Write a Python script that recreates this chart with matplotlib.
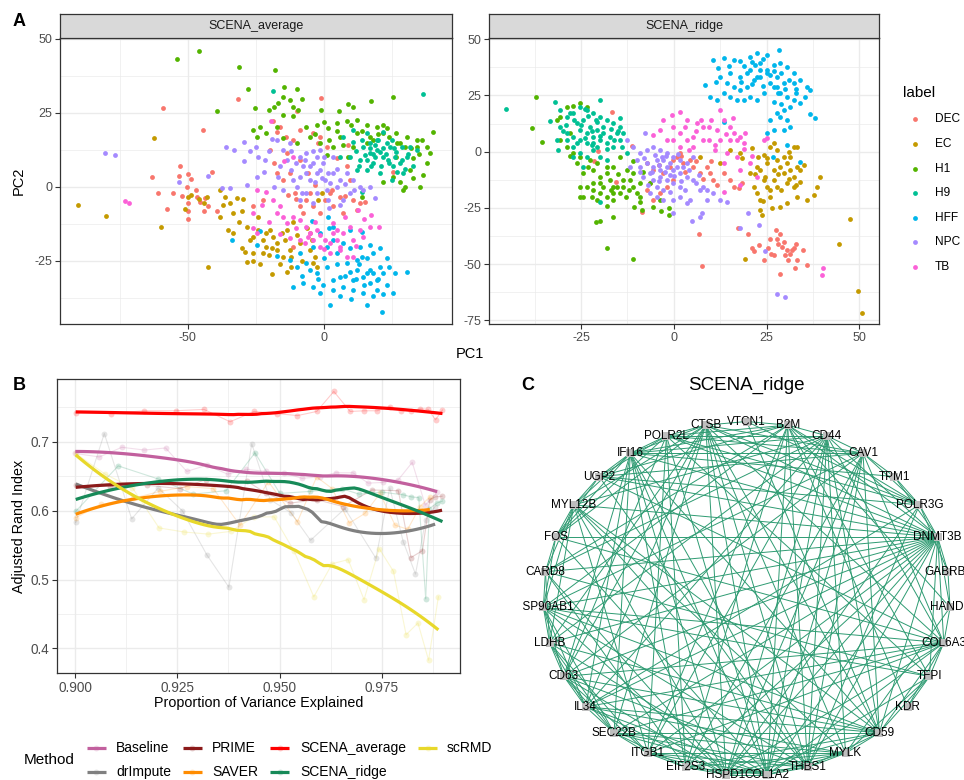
import numpy as np
import matplotlib
matplotlib.use('Agg')
import matplotlib.pyplot as plt
from matplotlib.collections import LineCollection

plt.rcParams['font.family'] = ['Liberation Sans', 'DejaVu Sans']
plt.rcParams['axes.unicode_minus'] = False

# ---------------- Panel A data (PC1, PC2) ----------------
labels_A = ['DEC', 'EC', 'H1', 'H9', 'HFF', 'NPC', 'TB']
colors_A = ['#F8766D', '#C49A00', '#53B400', '#00C094', '#00B6EB', '#A58AFF', '#FB61D7']

avg_DEC = [(-58.9,26.8),(-44.5,19.1),(-31.6,29.6),(-9.6,25.7),(-1.0,30.1),(-63.2,3.2),(-61.0,-2.1),(-57.7,-7.5),(-55.3,-1.9),(-52.8,6.9),(-53.3,3.7),(-50.0,4.3),(-48.9,2.7),(-50.4,0.1),(-49.8,-5.5),(-50.0,-8.1),(-50.0,-10.9),(-46.7,-3.3),(-45.5,-5.0),(-43.6,-3.8),(-42.4,-6.3),(-41.2,5.2),(-39.3,-8.0),(-16.1,20.4),(-17.3,18.7),(-18.5,22.1),(-19.7,12.5),(-18.3,8.2),(-17.3,4.6),(-14.8,2.4),(-13.0,-2.7),(-10.5,-1.9),(-8.7,-6.6),(-7.5,-8.9),(-6.3,-4.4),(-3.8,-6.6),(-1.3,-8.9),(0.5,-4.4),(2.3,-2.1),(3.6,-6.6),(6.0,-3.3),(7.2,-8.9),(10.9,-4.4),(13.4,-5.5),(15.2,-5.0),(9.7,2.4),(8.5,6.9),(4.8,9.7),(1.1,13.6),(-1.3,17.0),(-3.8,18.1),(-8.7,19.3),(-11.2,15.9),(-13.6,11.4),(-8.7,9.1),(-5.6,4.6),(-3.2,0.7),(-12.4,4.6),(-22.2,-4.4),(-25.9,-6.6),(25.6,5.2),(12.1,-7.8),(9.1,14.2),(-5.0,-15.7),(-11.2,-20.2),
           (-47,-1),(-52,-3),(-44,-8),(-5,-2),(3,-1),(-10,-4),(8,-3),(-2,15),(-14,17)]
avg_EC = [(-90.4,-6.0),(-80.1,-9.8),(-62.3,16.6),(-59.8,-13.4),(-42.4,-27.0),(-49.8,-3.3),(-48.9,-2.7),(-51.0,-7.5),(-45.7,-4.2),(-44.0,-5.3),(-43.0,-3.3),(-38.1,-1.0),(-36.3,-3.3),(-34.4,-5.5),(-33.2,-8.9),(-32.0,-3.8),(-29.5,-4.2),(-30.1,-8.3),(-28.3,-13.4),(-25.9,-16.8),(-24.0,-14.5),(-22.2,-17.9),(-21.0,-15.7),(-19.7,-14.5),(-18.5,-16.8),(-17.3,-19.0),(-15.4,-15.7),(-13.6,-14.5),(-14.2,-17.9),(-11.2,-11.7),(-12.4,-21.3),(-14.8,-23.5),(-17.3,-21.3),(-19.1,-20.7),(-21.0,-20.2),(-22.2,-22.4),(-25.9,-25.0),(-23.4,-26.1),(-19.1,-29.4),(-13.6,-28.9),(-11.8,-23.5),(-9.9,-16.2),(-8.7,-19.0),(-5.0,-21.3),(-3.2,-23.5),(-2.6,-26.9),(-4.4,-17.9),(-0.7,-2.1),(-2.0,-4.4),(-3.8,-25.8),(-30.1,-20.7),(-33.2,-15.7),(-35.0,-14.5),(-38.1,-10.0),(-25.9,-22.4),(-28.1,-25.2),
          (-27,-18),(-20,-23),(-16,-26),(-24,-10),(-37,-6),(-31,-12),(-12,-27),(-8,-25),(-6,-14),(-29,-22)]
avg_H1 = [(-53.9,43.2),(-45.7,45.9),(-31.0,40.5),(-27.7,33.0),(-18.0,39.5),(-39.3,25.6),(-25.1,26.8),(-14.6,33.7),(-9.8,33.0),(-16.7,28.3),(-15.1,30.5),(-12.4,29.4),(-11.2,27.1),(-8.1,29.6),(-9.3,26.0),(-11.2,23.8),(-14.8,24.3),(-18.1,27.1),(-20.0,26.0),(17.3,28.9),(25.7,30.5),(9.1,28.0),(10.9,27.1),(5.5,25.7),(-1.0,25.9),(-6.3,20.4),(-2.6,20.9),(1.7,19.8),(4.8,21.5),(8.5,22.1),(12.1,22.6),(15.8,20.9),(19.5,20.4),(23.2,19.8),(26.8,18.1),(30.5,17.0),(34.2,15.9),(37.9,13.6),(40.3,18.7),(39.1,11.4),(36.6,4.1),(35.4,-0.1),(29.3,-1.2),(31.7,5.7),(25.6,3.5),(-5.0,17.0),(-1.3,14.8),(3.6,13.6),(-23.4,20.4),(-24.6,17.0),(-25.9,19.3),(-21.0,18.1),(-17.3,20.4),(-14.8,16.4),(-9.9,14.8),(14.0,-3.3),(21.9,1.8),(29.9,13.6),(26.8,10.2),(10.9,13.6),(6.0,17.0),(1.1,10.8),(9.1,10.2),(33.0,9.7),(28.1,1.8),(12.1,18.1),(18.3,15.9),(21.9,18.1),(28.1,14.8),(15.8,14.8),(34.2,13.6),
          (2,16),(5,19),(7,14),(10,21),(14,19),(17,17),(20,18),(24,17),(27,15),(32,13),(35,11),(38,8),(33,3),(30,0),(36,16),(22,21),(-3,18),(0,22)]
avg_H9 = [(36.4,31.5),(-18.6,32.5),(7.2,17.0),(10.9,15.3),(14.6,13.6),(17.0,11.4),(19.5,12.5),(21.9,10.2),(24.4,13.6),(18.3,8.0),(15.8,5.7),(13.4,9.1),(20.7,4.6),(28.1,8.0),(30.5,10.2),(33.0,6.9),(25.6,6.9),(23.2,14.8),(9.7,10.2),(12.1,5.7),(19.5,15.9),(26.8,11.9),(29.3,4.6),(31.7,13.6),(15.8,18.1),(6.0,10.2),(21.9,18.7),(34.2,12.5),(10.9,19.3),(25.0,2.4),(14.0,-1.6),(17.0,13.0),(18.9,10.2),(20.7,11.9),(15.2,10.8),(23.8,9.1),(17.6,6.9),(26.2,10.2),(28.7,13.6),
          (12,12),(14,16),(16,9),(19,14),(21,7),(23,11),(25,16),(27,5),(29,9),(31,11),(22,13),(18,11),(24,8),(20,16),(26,13),(30,6),(13,7),(17,15)]
avg_HFF = [(-4.3,-11.4),(1.7,-10.2),(9.7,-14.5),(14.0,-15.1),(17.0,-19.6),(20.7,-20.7),(23.2,-24.1),(14.0,-23.5),(9.7,-20.7),(3.6,-17.9),(-1.3,-15.7),(-3.8,-20.2),(4.8,-22.4),(8.5,-25.8),(12.1,-28.0),(15.8,-29.2),(19.5,-31.4),(10.9,-31.4),(7.2,-33.7),(3.6,-34.8),(-1.3,-35.9),(-3.8,-33.7),(-7.5,-32.5),(-11.2,-33.7),(-9.9,-26.9),(-6.3,-25.8),(-2.6,-29.2),(1.1,-26.9),(6.0,-30.3),(14.6,-35.9),(18.3,-37.0),(15.8,-39.9),(2.3,-39.9),(21.6,-42.3),(25.6,-35.9),(23.2,-33.1),(30.5,-28.6),(26.2,-29.2),(20.7,-26.9),(18.3,-22.4),(13.4,-20.2),(-33.8,-17.9),(-23.3,-14.8),(-24.6,-19.6),(-17.3,-23.2),(-12.4,-24.7),(-8.7,-22.4),(3.6,-13.4),(1.1,-20.2),(10.9,-34.8),(12.1,-24.7),(21.9,-29.2),(17.0,-28.0),(14.6,-30.3),(9.7,-28.6),(3.6,-31.4),(-0.1,-33.1),(17.0,-32.5),(19.5,-34.8),
           (0,-24),(5,-26),(8,-30),(12,-31),(15,-33),(18,-29),(20,-31),(22,-36),(6,-37),(10,-38),(-5,-28),(-8,-30),(13,-26),(16,-24),(24,-27),(-2,-31),(7,-19),(2,-14)]
avg_NPC = [(-80.3,11.5),(-76.8,10.9),(-53.2,1.8),(-42.4,3.7),(-37.3,-0.5),(-34.4,-0.2),(-35.7,13.6),(-32.8,12.5),(-29.2,15.1),(-29.3,8.6),(-28.1,0.7),(-24.9,13.6),(-24.6,3.5),(-24.0,10.2),(-21.6,9.1),(-18.8,16.1),(-17.3,15.9),(-18.3,0.1),(-14.8,12.5),(-13.6,9.1),(-11.8,5.7),(-11.2,2.4),(-9.9,0.1),(-8.7,10.2),(-7.5,6.9),(-6.3,4.6),(-5.0,2.4),(-3.8,8.0),(-2.6,10.2),(-1.3,5.7),(0.5,2.4),(2.3,1.2),(3.6,4.6),(4.8,0.1),(6.0,2.4),(8.5,4.6),(10.9,2.4),(13.4,0.1),(14.6,-1.0),(9.7,-2.1),(7.2,-4.4),(1.1,-1.0),(-2.6,-2.1),(-6.3,-2.1),(-8.7,-4.4),(-3.8,-5.5),(1.7,-4.4),(18.9,-3.8),(17.0,0.1),(-6.3,11.4),(-1.3,12.5),(3.6,10.2),(-12.4,14.8),(-16.7,3.5),(-8.7,3.5),(-0.1,8.0),(-5.0,6.9),(-2.6,4.6),(-0.7,2.9),(1.7,4.6),(-3.2,1.8),(-6.9,9.1),
           (-20,12),(-16,7),(-10,8),(-4,12),(0,10),(5,6),(8,1),(11,-1),(-15,-1),(-22,5),(-27,12),(-8,-2),(2,-7),(6,-6),(-12,12)]
avg_TB = [(-73.0,-4.8),(-71.6,-5.3),(-19.5,22.4),(-14.5,8.6),(-11.2,10.2),(-21.0,-1.6),(-24.6,-1.0),(-25.9,-8.9),(-22.8,-6.1),(-18.5,-4.4),(-16.1,-6.6),(-25.9,-14.0),(-24.6,-15.7),(-14.8,-10.0),(-13.6,-12.3),(-11.2,-10.0),(-8.7,-11.1),(-6.3,-13.4),(-5.0,-15.7),(-3.8,-17.9),(-1.3,-16.2),(0.5,-17.9),(2.3,-19.0),(3.6,-15.7),(4.8,-14.5),(7.2,-15.7),(9.7,-13.4),(10.9,-17.9),(8.5,-23.5),(6.0,-21.3),(2.3,-22.4),(13.4,-14.5),(14.6,-16.8),(17.0,-13.4),(20.3,-13.4),(17.6,-9.5),(12.7,-7.8),(3.6,-12.3),(-2.6,-14.5),(-5.6,-16.8),(-8.7,-17.9),(-12.4,-17.3),(10.9,-23.5),(6.0,-20.2),(-1.3,-20.2),(-17.3,-8.9),
          (-20,-12),(-16,-16),(-10,-14),(-3,-12),(5,-18),(12,-20),(15,-11),(8,-10),(-7,-19),(0,-21)]

rid_DEC = [(-16.6,17.7),(-20.5,0.3),(-21.5,-4.3),(-15.6,-13.6),(-11.2,2.7),(-8.6,-26.7),(-7.3,-5.2),(-5.5,-8.2),(-2.8,-9.6),(-1.0,-6.7),(-0.1,-3.7),(0.8,-2.2),(1.7,-0.7),(2.6,-5.2),(4.4,-3.7),(5.3,-6.7),(7.1,-9.6),(8.9,-6.7),(9.8,-9.6),(10.7,-12.6),(11.6,-14.8),(-0.1,-12.6),(-1.9,-15.6),(-3.7,-18.5),(-5.5,-21.5),(-7.3,-17.1),(-6.4,-14.1),(6.7,-36.6),(7.7,-50.9),(17.4,-33.8),(19.9,-36.4),(21.0,-42.7),(21.7,-44.1),(23.1,-41.5),(24.2,-48.2),(25.5,-43.0),(26.2,-45.4),(27.8,-38.6),(28.2,-40.8),(28.7,-36.4),(29.6,-40.1),(30.5,-43.8),(31.4,-45.3),(32.3,-43.0),(33.2,-48.2),(34.8,-43.5),(35.9,-50.4),(32.7,-51.5),(30.8,-48.2),(28.7,-54.2),(16.1,-15.6),(17.5,-16.2),(13.4,-9.6),(15.2,-12.6),(18.3,-14.1),(27.6,-34.9),(29.1,-42.3),(31.8,-43.8),
           (3,-9),(6,-4),(10,-4),(8,-12),(-4,-6),(2,-2),(27,-46),(33,-41),(26,-39),(30,-46)]
rid_EC = [(7.1,-2.2),(12.5,-5.2),(15.2,0.7),(17.9,-0.7),(21.0,1.5),(18.3,-3.0),(20.6,-9.6),(22.4,-6.7),(23.3,-8.2),(24.2,-1.5),(25.1,-5.2),(26.0,2.2),(26.9,3.7),(27.8,-3.7),(28.7,-6.7),(29.6,-9.6),(30.5,-5.2),(31.4,-8.2),(32.3,-11.1),(33.2,-6.7),(34.1,-8.2),(30.5,-14.1),(32.3,-15.6),(26.9,-12.6),(25.1,-15.6),(24.2,-12.6),(23.3,-21.5),(22.4,-18.5),(26.0,-20.0),(27.8,-15.6),(24.6,-11.1),(26.9,-8.2),(34.1,-13.4),(33.2,-20.0),(35.9,-21.5),(37.7,-19.3),(38.6,-15.6),(39.3,-11.1),(32.3,2.2),(33.2,2.2),(30.5,-23.0),(28.7,-24.5),(26.4,-25.2),(23.3,-26.0),(23.7,-28.2),(19.1,-47.9),(44.6,-41.1),(47.6,-30.1),(49.6,-61.9),(50.7,-71.5),(31.4,-2.2),(29.6,-2.2),(22.8,-2.2),(27.8,0.7),(21.5,-15.6),
          (25,-3),(28,-10),(31,-12),(29,-17),(22,-10),(26,-17),(33,-15),(35,-6),(24,-22),(31,0)]
rid_H1 = [(-38.3,10.7),(-37.1,24.2),(-35.4,4.5),(-17.9,-42.7),(-10.9,-47.8),(-21.0,-31.3),(-19.9,-30.9),(-16.4,-28.9),(-3.4,-26.3),(-1.3,-25.2),(-1.2,-28.2),(-8.6,-25.7),(-10.6,-24.5),(-28.9,20.0),(-27.1,20.3),(-25.3,21.5),(-23.5,20.0),(-30.7,15.6),(-28.9,2.2),(-27.1,-0.7),(-25.3,-2.2),(-24.4,-9.6),(-21.7,-8.2),(-19.9,-11.1),(-18.1,-9.6),(-16.3,-6.7),(-23.5,-15.6),(-21.7,-17.1),(-19.9,-18.5),(-18.1,-20.0),(-16.3,-21.5),(-14.5,-18.5),(-13.6,-12.6),(-12.7,-8.2),(-11.8,-12.6),(-10.9,-15.6),(-9.1,-20.0),(-25.3,-20.0),(-24.4,-20.0),(-21.7,-14.1),(-19.0,-15.6),(-17.2,-12.6),(-15.4,-15.6),(-13.6,-15.6),(-20.8,-21.5),(-16.3,-15.6),(-10.9,-9.6),(-8.2,-8.9),(-9.1,-22.3),(-25.3,-15.6),(-28.0,8.2),(-30.7,5.2),(-31.6,14.1),(-18.1,-6.7),(-20.8,-5.2),(-14.5,-2.2),(-22.6,-3.7),(-16.3,-18.5),(-10.0,-18.5),(-6.4,-14.1),(-3.7,-21.5),(-5.5,-24.5),
          (-26,-5),(-23,-7),(-20,-14),(-17,-17),(-15,-10),(-13,-20),(-11,-4),(-9,-14),(-22,-20),(-18,-24),(-28,-2),(-12,-17)]
rid_H9 = [(-45.2,18.8),(-33.4,13.8),(-31.1,0.7),(-31.6,5.2),(-32.0,22.3),(-30.7,18.5),(-28.9,15.6),(-27.1,17.1),(-25.3,20.0),(-23.5,18.5),(-21.7,17.1),(-19.9,15.6),(-18.1,14.1),(-16.3,12.6),(-14.5,11.1),(-30.7,11.1),(-28.9,8.2),(-27.1,6.7),(-25.3,9.6),(-23.5,8.2),(-21.7,6.7),(-19.9,5.2),(-18.1,3.7),(-16.3,2.2),(-14.5,5.2),(-27.1,2.2),(-25.3,-0.7),(-23.5,-2.2),(-21.7,0.7),(-19.9,-2.2),(-18.1,-3.7),(-28.9,5.2),(-26.2,12.6),(-24.4,14.1),(-22.6,11.1),(-20.8,9.6),(-19.0,8.2),(-17.2,6.7),(-15.4,8.2),(-13.6,8.2),(-23.5,3.7),(-21.7,3.7),(-25.3,5.2),(-20.8,13.4),(-19.9,23.0),(-14.5,14.8),(-24.4,-6.7),(-19.9,-22.4),(-27.1,-2.2),(-12.7,-0.7),(-14.0,2.2),(-20.8,2.2),
          (-29,12),(-27,14),(-25,12),(-23,16),(-21,14),(-19,11),(-17,10),(-15,9),(-26,4),(-24,6),(-22,9),(-20,7),(-18,1),(-16,5),(-30,9),(-28,17),(-24,19),(-22,3)]
rid_HFF = [(10.7,40.8),(13.4,41.5),(16.1,40.8),(17.9,40.1),(20.6,42.3),(22.4,43.8),(23.3,39.3),(25.1,36.4),(26.9,38.6),(28.7,39.3),(30.5,37.8),(32.3,34.9),(34.1,31.9),(35.9,28.9),(36.8,27.4),(27.8,33.4),(26.0,30.4),(24.2,26.0),(22.4,23.0),(20.6,24.5),(18.8,23.0),(17.0,23.0),(15.2,24.5),(13.4,26.0),(11.6,23.0),(9.8,24.5),(8.5,29.7),(12.5,33.4),(14.3,30.4),(16.1,28.9),(17.9,33.4),(19.7,34.9),(21.5,31.9),(23.3,33.4),(25.1,34.9),(26.9,28.9),(28.7,26.0),(30.5,24.5),(32.3,23.0),(34.1,21.5),(31.4,20.0),(29.6,18.5),(27.8,17.1),(26.0,14.1),(28.7,15.6),(30.5,14.1),(31.4,11.1),(26.9,9.6),(25.1,8.2),(29.6,9.6),(28.2,26.0),(19.7,28.9),(15.2,34.9),(11.4,31.2),(28.4,45.0),(22.4,33.4),(30.5,3.0),(34.1,-4.5),(38.1,14.8),(36.6,16.9),(26.7,-2.2),(13.4,13.1),(32.3,30.4),(35.4,24.5),(20.6,36.4),(23.3,36.4),(22.0,38.6),(26.0,34.1),(27.8,28.9),(29.6,30.4),(17.9,27.4),
           (19,38),(21,40),(24,41),(27,36),(29,35),(31,32),(33,28),(18,31),(15,38),(12,37),(24,29),(27,22),(30,28),(33,26),(29,21),(25,43),(21,30)]
rid_NPC = [(-12.7,5.2),(-10.9,2.2),(-9.1,-0.7),(-7.3,0.7),(-5.5,2.2),(-3.7,0.7),(-1.9,-0.7),(-0.1,-2.2),(1.7,-3.7),(3.5,-5.2),(5.3,-2.2),(-9.1,-6.7),(-7.3,-5.2),(-5.5,-6.7),(-3.7,-8.2),(-1.9,-6.7),(-0.1,-8.2),(1.7,-9.6),(3.5,-11.1),(5.3,-12.6),(-5.5,-12.6),(-3.7,-11.1),(-1.9,-12.6),(-0.1,-14.1),(1.7,-15.6),(-8.2,-11.1),(-6.4,-18.5),(-4.6,-20.0),(-2.8,-21.5),(-0.1,-21.5),(1.7,-20.0),(3.5,-23.0),(4.4,-21.5),(-0.1,-27.4),(4.9,-30.9),(7.1,-28.9),(7.6,-27.2),(8.9,-21.5),(7.1,-17.1),(8.9,-17.1),(10.7,-18.5),(12.5,-21.5),(14.3,-22.3),(6.7,-10.4),(8.0,-15.6),(17.9,-33.8),(20.1,-27.4),(22.9,-32.5),(24.7,-44.1),(27.8,-63.4),(30.0,-64.5),(-7.7,8.5),(-10.0,-3.7),(-11.8,-6.7),(-4.6,-3.7),(-2.8,-3.7),(-1.0,-5.2),(0.8,-6.7),(2.6,-6.7),(-6.4,-9.6),(-4.6,-15.6),(-5.0,-1.5),(-3.2,-2.2),(-4.1,-5.9),(-2.3,-8.9),(-1.0,-10.4),
           (-8,-3),(-6,-9),(-4,-13),(-2,-2),(0,-11),(2,-13),(4,-8),(-9,-9),(-7,-15),(3,-17),(6,-14),(-3,-17),(1,-1),(-1,-18)]
rid_TB = [(-0.5,16.3),(1.7,17.8),(-2.8,14.1),(-3.7,9.6),(-5.5,7.4),(-0.1,11.1),(3.5,14.1),(6.2,12.6),(8.0,11.1),(9.4,5.2),(7.4,14.1),(9.4,11.1),(11.6,9.6),(13.4,14.1),(12.5,18.5),(15.2,11.1),(16.1,8.2),(17.0,5.2),(17.9,6.7),(18.8,3.7),(15.2,5.2),(12.5,5.2),(11.2,0.7),(8.0,5.2),(5.3,2.2),(3.5,5.2),(1.7,8.2),(-0.1,5.2),(-1.9,5.2),(5.3,6.7),(14.3,-0.7),(13.4,-5.2),(17.0,-2.2),(17.9,-8.2),(19.2,8.2),(20.6,-5.2),(22.4,-11.1),(24.2,5.2),(25.1,5.9),(17.9,-14.8),(13.4,-17.8),(40.1,-51.9),(39.9,-54.9),(1.7,2.2),(4.0,0.7),
          (3,11),(6,9),(10,14),(14,8),(11,3),(16,15),(19,1),(21,-2)]

avg_sets = [avg_DEC, avg_EC, avg_H1, avg_H9, avg_HFF, avg_NPC, avg_TB]
rid_sets = [rid_DEC, rid_EC, rid_H1, rid_H9, rid_HFF, rid_NPC, rid_TB]

# ---------------- Panel B data ----------------
methods = ['Baseline', 'drImpute', 'PRIME', 'SAVER', 'SCENA_average', 'SCENA_ridge', 'scRMD']
method_colors = ['#C2609E', '#808080', '#8B1A1A', '#FF8C00', '#FF0000', '#178A58', '#E8D82A']

base_x = [0.9000, 0.9059, 0.9114, 0.9169, 0.9221, 0.9273, 0.9322, 0.9373, 0.9418, 0.9466, 0.9510, 0.9555, 0.9598, 0.9638, 0.9680, 0.9717, 0.9753, 0.9791, 0.9825, 0.9857, 0.9886]
base_y = [0.683, 0.678, 0.692, 0.688, 0.691, 0.657, 0.666, 0.653, 0.660, 0.657, 0.655, 0.647, 0.649, 0.655, 0.655, 0.640, 0.641, 0.645, 0.670, 0.608, 0.627]
drimp_x = [0.9001, 0.9071, 0.9138, 0.9203, 0.9262, 0.9322, 0.9376, 0.9432, 0.9477, 0.9528, 0.9576, 0.9660, 0.9736, 0.9770, 0.9803, 0.9833, 0.9858, 0.9881]
drimp_y = [0.583, 0.712, 0.588, 0.633, 0.600, 0.536, 0.489, 0.697, 0.616, 0.597, 0.557, 0.603, 0.531, 0.633, 0.555, 0.508, 0.587, 0.606]
prime_x = [0.9001, 0.9085, 0.9175, 0.9256, 0.9319, 0.9420, 0.9468, 0.9526, 0.9591, 0.9656, 0.9726, 0.9791, 0.9822, 0.9850, 0.9868, 0.9881, 0.9898]
prime_y = [0.637, 0.635, 0.637, 0.632, 0.645, 0.643, 0.625, 0.611, 0.616, 0.606, 0.630, 0.629, 0.532, 0.542, 0.616, 0.620, 0.621]
saver_x = [0.9001, 0.9064, 0.9142, 0.9207, 0.9273, 0.9338, 0.9403, 0.9473, 0.9544, 0.9591, 0.9629, 0.9671, 0.9709, 0.9746, 0.9783, 0.9814, 0.9844, 0.9868]
saver_y = [0.590, 0.609, 0.618, 0.628, 0.635, 0.632, 0.579, 0.642, 0.584, 0.649, 0.632, 0.582, 0.596, 0.625, 0.579, 0.573, 0.606, 0.620]
savg_x = [0.9001, 0.9087, 0.9169, 0.9246, 0.9315, 0.9379, 0.9438, 0.9493, 0.9544, 0.9591, 0.9633, 0.9673, 0.9708, 0.9739, 0.9770, 0.9797, 0.9823, 0.9845, 0.9864, 0.9882, 0.9899]
savg_y = [0.742, 0.741, 0.745, 0.745, 0.747, 0.729, 0.744, 0.741, 0.738, 0.744, 0.773, 0.744, 0.745, 0.745, 0.751, 0.745, 0.745, 0.748, 0.747, 0.732, 0.746]
sridge_x = [0.9001, 0.9105, 0.9203, 0.9289, 0.9369, 0.9440, 0.9501, 0.9575, 0.9652, 0.9695, 0.9750, 0.9803, 0.9823, 0.9841, 0.9858, 0.9867, 0.9885, 0.9899]
sridge_y = [0.599, 0.665, 0.646, 0.624, 0.629, 0.684, 0.625, 0.628, 0.632, 0.624, 0.627, 0.623, 0.620, 0.619, 0.472, 0.603, 0.611, 0.614]
scrmd_x = [0.9001, 0.9073, 0.9140, 0.9205, 0.9267, 0.9326, 0.9381, 0.9437, 0.9487, 0.9536, 0.9584, 0.9629, 0.9668, 0.9707, 0.9744, 0.9779, 0.9810, 0.9839, 0.9865, 0.9889]
scrmd_y = [0.683, 0.653, 0.633, 0.575, 0.569, 0.566, 0.570, 0.591, 0.591, 0.541, 0.475, 0.523, 0.529, 0.471, 0.545, 0.512, 0.420, 0.437, 0.383, 0.475]

method_x = [base_x, drimp_x, prime_x, saver_x, savg_x, sridge_x, scrmd_x]
method_y = [base_y, drimp_y, prime_y, saver_y, savg_y, sridge_y, scrmd_y]

# ---------------- Panel C data ----------------
genes = ['VTCN1', 'B2M', 'CD44', 'CAV1', 'TPM1', 'POLR3G', 'DNMT3B', 'GABRB3', 'HAND1', 'COL6A3',
         'TFPI', 'KDR', 'CD59', 'MYLK', 'THBS1', 'COL1A2', 'HSPD1', 'EIF2S3', 'ITGB1', 'SEC22B',
         'IL34', 'CD63', 'LDHB', 'HSP90AB1', 'CARD8', 'FOS', 'MYL12B', 'UGP2', 'IFI16', 'POLR2L', 'CTSB']
edges_from = {
    'DNMT3B': ['FOS', 'CARD8', 'HSP90AB1', 'LDHB', 'CD63', 'IL34', 'SEC22B', 'ITGB1', 'EIF2S3', 'HSPD1', 'COL1A2', 'MYL12B', 'UGP2', 'IFI16', 'POLR2L', 'CTSB', 'B2M', 'CD44', 'TPM1', 'POLR3G', 'GABRB3', 'HAND1', 'COL6A3', 'TFPI', 'CD59', 'THBS1'],
    'CTSB': ['VTCN1', 'POLR2L', 'IFI16', 'MYL12B', 'FOS', 'CD63', 'IL34', 'SEC22B', 'HSPD1', 'COL1A2', 'THBS1', 'MYLK', 'CD59', 'COL6A3', 'POLR3G', 'CAV1', 'LDHB'],
    'B2M': ['VTCN1', 'CD44', 'IFI16', 'UGP2', 'CARD8', 'HSP90AB1', 'ITGB1', 'EIF2S3', 'COL1A2', 'THBS1', 'KDR', 'TFPI', 'HAND1', 'POLR3G', 'POLR2L'],
    'COL1A2': ['HSPD1', 'THBS1', 'EIF2S3', 'ITGB1', 'SEC22B', 'IL34', 'LDHB', 'FOS', 'IFI16', 'POLR2L', 'CD44', 'CAV1', 'COL6A3', 'TFPI', 'MYLK'],
    'THBS1': ['MYLK', 'CD59', 'HSPD1', 'ITGB1', 'SEC22B', 'CD63', 'HSP90AB1', 'MYL12B', 'UGP2', 'IFI16', 'CD44', 'CAV1', 'POLR3G'],
    'CD44': ['CAV1', 'POLR2L', 'IFI16', 'MYL12B', 'CARD8', 'LDHB', 'IL34', 'ITGB1', 'HSPD1', 'MYLK', 'CD59', 'COL6A3'],
    'IFI16': ['POLR2L', 'UGP2', 'MYL12B', 'FOS', 'CD63', 'IL34', 'SEC22B', 'EIF2S3', 'HSPD1', 'CD59', 'CAV1', 'TPM1'],
    'CAV1': ['POLR3G', 'TPM1', 'POLR2L', 'UGP2', 'HSP90AB1', 'CD63', 'EIF2S3', 'HSPD1', 'CD59', 'COL6A3'],
    'HSPD1': ['EIF2S3', 'ITGB1', 'IL34', 'CD63', 'HSP90AB1', 'CARD8', 'MYL12B', 'MYLK', 'CD59', 'COL6A3', 'POLR3G'],
    'IL34': ['SEC22B', 'CD63', 'LDHB', 'HSP90AB1', 'CD59', 'COL6A3', 'MYLK', 'POLR3G'],
    'HSP90AB1': ['LDHB', 'CD63', 'CARD8', 'FOS', 'MYL12B', 'COL6A3', 'TFPI', 'CD59', 'SEC22B'],
    'CD63': ['LDHB', 'SEC22B', 'ITGB1', 'CD59', 'COL6A3', 'POLR2L'],
    'MYL12B': ['UGP2', 'FOS', 'CARD8', 'LDHB', 'ITGB1', 'CD59', 'MYLK'],
    'POLR2L': ['UGP2', 'FOS', 'ITGB1', 'EIF2S3', 'TFPI', 'POLR3G'],
    'CD59': ['MYLK', 'COL6A3', 'TFPI', 'SEC22B', 'EIF2S3', 'LDHB'],
    'COL6A3': ['TFPI', 'HAND1', 'KDR', 'SEC22B', 'ITGB1', 'FOS', 'UGP2'],
    'ITGB1': ['SEC22B', 'EIF2S3', 'MYLK', 'LDHB'],
    'SEC22B': ['EIF2S3', 'LDHB', 'MYLK'],
    'EIF2S3': ['MYLK', 'CARD8'],
    'LDHB': ['CARD8'],
    'CARD8': ['FOS', 'TFPI'],
    'FOS': ['UGP2'],
    'UGP2': ['POLR3G'],
    'POLR3G': ['TPM1', 'GABRB3'],
    'GABRB3': ['HAND1'],
    'HAND1': ['MYLK'],
    'TFPI': ['KDR', 'MYLK'],
    'VTCN1': ['POLR3G', 'CD59'],
}

# ---------------- Figure ----------------
W, H = 964, 780
fig = plt.figure(figsize=(W / 100, H / 100), dpi=100)


def fax(l, t, r, b, **kw):
    return fig.add_axes([l / W, 1 - b / H, (r - l) / W, (b - t) / H], **kw)


def ftext(x, y, s, **kw):
    return fig.text(x / W, 1 - y / H, s, **kw)


def style_bw(ax, tsize):
    ax.set_facecolor('white')
    for sp in ax.spines.values():
        sp.set_color('#333333')
        sp.set_linewidth(0.9)
    ax.grid(True, which='major', color='#EBEBEB', lw=1.0)
    ax.grid(True, which='minor', color='#EBEBEB', lw=0.5)
    ax.set_axisbelow(True)
    ax.tick_params(which='major', length=3.5, width=0.8, color='#333333',
                   labelsize=tsize, labelcolor='#4D4D4D', pad=2)
    ax.tick_params(which='minor', length=0)


def strip(l, t, r, b, title):
    s = fax(l, t, r, b)
    s.set_facecolor('#D9D9D9')
    s.set_xticks([])
    s.set_yticks([])
    for sp in s.spines.values():
        sp.set_color('#333333')
        sp.set_linewidth(0.9)
    s.text(0.5, 0.5, title, ha='center', va='center', fontsize=9, color='#1A1A1A',
           transform=s.transAxes)


# Panel A
axL = fax(60.3, 38.3, 451.7, 324.3)
axR = fax(488.7, 38.3, 879.3, 324.3)
strip(60.3, 14, 451.7, 38.3, 'SCENA_average')
strip(488.7, 14, 879.3, 38.3, 'SCENA_ridge')

for ax, sets in ((axL, avg_sets), (axR, rid_sets)):
    style_bw(ax, 9)
    for pts, col in zip(sets, colors_A):
        arr = np.array(pts, dtype=float)
        ax.scatter(arr[:, 0], arr[:, 1], s=12, color=col, linewidths=0, zorder=3)

axL.set_xlim(-96.8, 47.1)
axL.set_ylim(-46.4, 50.2)
axL.set_xticks([-50, 0])
axL.set_xticks([-75, -25, 25], minor=True)
axL.set_yticks([-25, 0, 25, 50])
axL.set_yticks([-37.5, -12.5, 12.5, 37.5], minor=True)

axR.set_xlim(-49.9, 55.4)
axR.set_ylim(-76.7, 50.4)
axR.set_xticks([-25, 0, 25, 50])
axR.set_xticks([-37.5, -12.5, 12.5, 37.5], minor=True)
axR.set_yticks([-75, -50, -25, 0, 25, 50])
axR.set_yticks([-62.5, -37.5, -12.5, 12.5, 37.5], minor=True)

ftext(470, 354, 'PC1', ha='center', va='center', fontsize=10.5)
ftext(19, 181, 'PC2', ha='center', va='center', fontsize=10.5, rotation=90)

# Overlay for legends
ov = fig.add_axes([0, 0, 1, 1], zorder=5)
ov.set_xlim(0, W)
ov.set_ylim(H, 0)
ov.axis('off')
ov.patch.set_visible(False)

ftext(902.7, 92.7, 'label', ha='left', va='center', fontsize=11)
legA_y = [119.3, 144, 168.7, 193.3, 218, 242.3, 266.7]
for lab, col, yy in zip(labels_A, colors_A, legA_y):
    ov.scatter([915], [yy], s=12, color=col, linewidths=0)
    ftext(935, yy, lab, ha='left', va='center', fontsize=8.6)

# Panel B


def loess(x, y, grid, span=0.75):
    x = np.asarray(x)
    y = np.asarray(y)
    n = len(x)
    q = int(np.floor(n * span))
    out = []
    for x0 in grid:
        d = np.abs(x - x0)
        h = np.sort(d)[q - 1]
        w = np.clip(1 - (d / h) ** 3, 0, None) ** 3
        X = np.vstack([np.ones(n), x - x0, (x - x0) ** 2]).T
        sw = np.sqrt(w)
        beta = np.linalg.lstsq(X * sw[:, None], y * sw, rcond=None)[0]
        out.append(beta[0])
    return np.array(out)


axB = fax(57.3, 379, 460.3, 673.3)
style_bw(axB, 9.8)
for xs, ys, col in zip(method_x, method_y, method_colors):
    axB.plot(xs, ys, color=col, lw=0.8, alpha=0.2, zorder=2)
    axB.scatter(xs, ys, s=18, color=col, alpha=0.2, linewidths=0, zorder=3)
for xs, ys, col in zip(method_x, method_y, method_colors):
    g = np.linspace(min(xs), max(xs), 80)
    axB.plot(g, loess(xs, ys, g), color=col, lw=2.3, zorder=4, solid_capstyle='butt')
axB.set_xlim(0.89559, 0.99427)
axB.set_ylim(0.364, 0.7911)
axB.set_xticks([0.9, 0.925, 0.95, 0.975])
axB.set_xticklabels(['0.900', '0.925', '0.950', '0.975'])
axB.set_xticks([0.9125, 0.9375, 0.9625, 0.9875], minor=True)
axB.set_yticks([0.4, 0.5, 0.6, 0.7])
axB.set_yticklabels(['0.4', '0.5', '0.6', '0.7'])
axB.set_yticks([0.45, 0.55, 0.65, 0.75], minor=True)
ftext(19, 526, 'Adjusted Rand Index', ha='center', va='center', fontsize=10.3, rotation=90)
ftext(258.8, 703.3, 'Proportion of Variance Explained', ha='center', va='center', fontsize=10.3)

# Panel B legend
ftext(24, 760, 'Method', ha='left', va='center', fontsize=11)
key_x = [86.7, 86.7, 182.7, 182.7, 270, 270, 418]
txt_x = [116, 116, 212, 212, 300, 300, 446.7]
key_y = [747.7, 772, 747.7, 772, 747.7, 772, 747.7]
for m, col, kx, tx, ky in zip(methods, method_colors, key_x, txt_x, key_y):
    ov.plot([kx, kx + 19], [ky, ky], color=col, lw=2.3, solid_capstyle='butt')
    ov.scatter([kx + 9.5], [ky], s=18, color=col, alpha=0.2, linewidths=0)
    ftext(tx, ky, m, ha='left', va='center', fontsize=10)

# Panel C
axC = fax(522, 400, 964, 780)
axC.axis('off')
axC.set_xlim(-1.1036, 1.0673)
axC.set_ylim(-1.0254, 1.1215)
n_genes = len(genes)
ang = np.deg2rad(90 - np.arange(n_genes) * 360.0 / n_genes)
pos = {g: (np.cos(a), np.sin(a)) for g, a in zip(genes, ang)}
segs = []
for a, lst in edges_from.items():
    for b in lst:
        segs.append([pos[a], pos[b]])
axC.add_collection(LineCollection(segs, colors='#2E9B72', linewidths=0.7, zorder=1))
gx = [pos[g][0] for g in genes]
gy = [pos[g][1] for g in genes]
axC.scatter(gx, gy, marker='s', s=40, color='#BEBEBE', linewidths=0, zorder=2)
for g in genes:
    axC.text(pos[g][0], pos[g][1], g, ha='center', va='center', fontsize=8.5,
             color='black', zorder=3, clip_on=True)

ftext(746.7, 385.7, 'SCENA_ridge', ha='center', va='center', fontsize=13.5)

# Panel letters
ftext(19.5, 21.5, 'A', ha='center', va='center', fontsize=13, fontweight='bold')
ftext(19, 386, 'B', ha='center', va='center', fontsize=13, fontweight='bold')
ftext(528, 385, 'C', ha='center', va='center', fontsize=13, fontweight='bold')

fig.savefig('out.png', dpi=100)
